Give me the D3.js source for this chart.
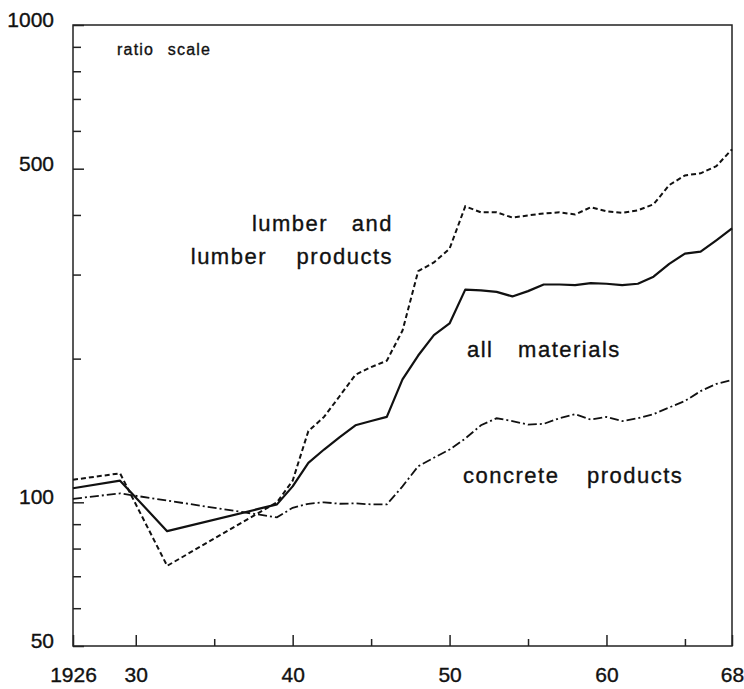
<!DOCTYPE html>
<html>
<head>
<meta charset="utf-8">
<script src="https://cdn.jsdelivr.net/npm/d3@7"></script>
<style>
  body { margin: 0; background: #fff; }
  text { font-family: "Liberation Sans", Arial, sans-serif; fill: #111; stroke: #111; stroke-width: 0.35px; }
</style>
</head>
<body>
<div id="chart"></div>
<script>
// years shared by all series (1932 is missing for concrete)
const years = [1926, 1929, 1932, 1939, 1940, 1941, 1942, 1943, 1944, 1945, 1946, 1947,
  1948, 1949, 1950, 1951, 1952, 1953, 1954, 1955, 1956, 1957, 1958, 1959, 1960,
  1961, 1962, 1963, 1964, 1965, 1966, 1967, 1968];

const allMaterials = [107, 111, 87, 99, 108, 121, 129, 137, 145, 148, 151, 181,
  203, 224, 237, 279, 278, 276, 270, 277, 286, 286, 285, 288, 287,
  285, 287, 297, 316, 332, 335, 354, 375];

const lumber = [111.5, 115, 73.6, 100, 111, 141, 151, 167, 185, 192, 198, 229,
  305, 318, 340, 417, 405, 405, 395, 399, 403, 405, 401, 415, 407,
  404, 409, 421, 462, 484, 489, 506, 549];

const concrete = [101.7, 104.4, null, 93, 97.4, 99.3, 100, 99.3, 99.5, 99, 99, 108,
  119, 124, 129, 136, 145, 150, 148, 145.5, 146, 150, 153, 149, 151,
  148, 150, 153, 158, 163, 171, 177, 180.5];

const yMajorTicks = [50, 100, 500, 1000];
const yMinorTicks = [60, 70, 80, 90, 200, 300, 400, 600, 700, 800, 900];
const xMajorTicks = [1926, 1930, 1940, 1950, 1960, 1968];
const xMinorTicks = [1935, 1945, 1955, 1965];

const WIDTH = 744, HEIGHT = 689;
const MARGIN = { LEFT: 73, RIGHT: 12, TOP: 25, BOTTOM: 43 };
const innerW = WIDTH - MARGIN.LEFT - MARGIN.RIGHT;
const innerH = HEIGHT - MARGIN.TOP - MARGIN.BOTTOM;

const svg = d3.select("#chart").append("svg")
  .attr("width", WIDTH)
  .attr("height", HEIGHT);

const g = svg.append("g")
  .attr("transform", `translate(${MARGIN.LEFT}, ${MARGIN.TOP})`);

const x = d3.scaleLinear().domain([1926, 1968]).range([0, innerW]);
const y = d3.scaleLog().domain([50, 1000]).range([innerH, 0]);

// frame
g.append("rect")
  .attr("width", innerW)
  .attr("height", innerH)
  .attr("fill", "none")
  .attr("stroke", "#222")
  .attr("stroke-width", 1.5);

// y axis, ticks pointing inward
const yMajor = g.append("g").call(
  d3.axisLeft(y).tickValues(yMajorTicks).tickSize(-11).tickPadding(19)
    .tickFormat(d3.format("d")));
yMajor.selectAll("text").attr("dy", "0.07em").style("font-size", "21px");

const yMinor = g.append("g").call(
  d3.axisLeft(y).tickValues(yMinorTicks).tickSize(-8).tickFormat(""));

// x axis
const xMajor = g.append("g")
  .attr("transform", `translate(0, ${innerH})`)
  .call(d3.axisBottom(x).tickValues(xMajorTicks).tickSize(-11).tickPadding(21)
    .tickFormat((d) => (d === 1926 ? "1926" : String(d % 100))));
xMajor.selectAll("text").style("font-size", "21px");

const xMinor = g.append("g")
  .attr("transform", `translate(0, ${innerH})`)
  .call(d3.axisBottom(x).tickValues(xMinorTicks).tickSize(-7).tickFormat(""));

[yMajor, yMinor, xMajor, xMinor].forEach((a) => {
  a.select(".domain").remove();
  a.selectAll("line").attr("stroke", "#222").attr("stroke-width", 1.5);
  a.selectAll("text").attr("fill", "#111").style("font-family", "Liberation Sans, Arial, sans-serif");
});

// series
const toPoints = (vals) => years
  .map((yr, i) => ({ year: yr, v: vals[i] }))
  .filter((d) => d.v != null);

const line = d3.line().x((d) => x(d.year)).y((d) => y(d.v));

g.append("path")
  .datum(toPoints(concrete))
  .attr("d", line)
  .attr("fill", "none")
  .attr("stroke", "#111")
  .attr("stroke-width", 1.8)
  .attr("stroke-dasharray", "9,3,2,3");

g.append("path")
  .datum(toPoints(lumber))
  .attr("d", line)
  .attr("fill", "none")
  .attr("stroke", "#111")
  .attr("stroke-width", 2)
  .attr("stroke-dasharray", "5,3");

g.append("path")
  .datum(toPoints(allMaterials))
  .attr("d", line)
  .attr("fill", "none")
  .attr("stroke", "#111")
  .attr("stroke-width", 2.2)
  .attr("stroke-linejoin", "round");

// labels
svg.append("text")
  .attr("x", 117).attr("y", 55)
  .style("font-size", "16px")
  .style("letter-spacing", "1.2px")
  .style("word-spacing", "8px")
  .text("ratio scale");

const labels = [
  { text: "lumber and", x: 393, y: 231, anchor: "end", ws: 16 },
  { text: "lumber products", x: 393, y: 264, anchor: "end", ws: 22 },
  { text: "all materials", x: 467, y: 357, anchor: "start", ws: 17 },
  { text: "concrete products", x: 463, y: 483, anchor: "start", ws: 20 },
];

svg.selectAll(".lbl").data(labels).enter()
  .append("text")
  .attr("class", "lbl")
  .attr("x", (d) => d.x)
  .attr("y", (d) => d.y)
  .attr("text-anchor", (d) => d.anchor)
  .style("font-size", "22px")
  .style("letter-spacing", "1.5px")
  .style("word-spacing", (d) => d.ws + "px")
  .text((d) => d.text);
</script>
</body>
</html>
